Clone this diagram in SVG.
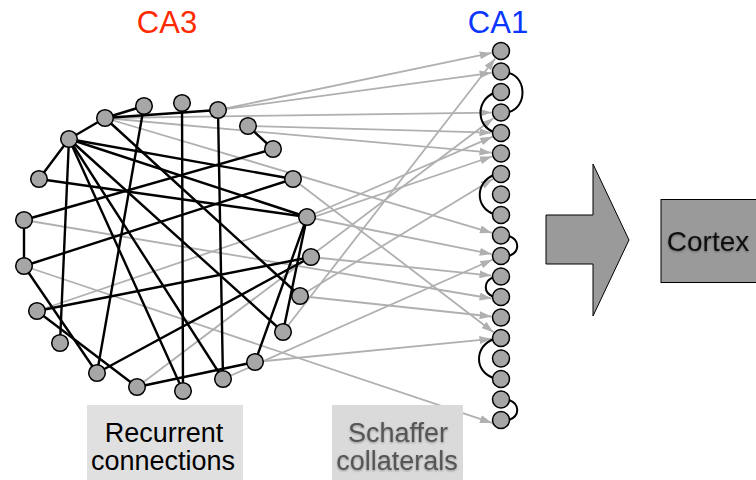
<svg xmlns="http://www.w3.org/2000/svg" width="756" height="480" viewBox="0 0 756 480">
<defs>
<marker id="ah" viewBox="0 0 12 8" refX="12" refY="4" markerWidth="12" markerHeight="8" markerUnits="userSpaceOnUse" orient="auto">
<path d="M0,0 L12,4 L0,8 z" fill="#b0b0b0"/>
</marker>
<filter id="sh" x="-10%" y="-10%" width="120%" height="130%">
<feGaussianBlur in="SourceAlpha" stdDeviation="1.2"/>
<feOffset dx="0" dy="1" result="b"/>
<feComponentTransfer><feFuncA type="linear" slope="0.35"/></feComponentTransfer>
<feMerge><feMergeNode/><feMergeNode in="SourceGraphic"/></feMerge>
</filter>
</defs>
<style>
.n{fill:#a6a6a6;stroke:#000;stroke-width:1.5}
.rc line{stroke:#000;stroke-width:2.4;stroke-linecap:round}
.sc line{stroke:#b0b0b0;stroke-width:1.8;marker-end:url(#ah)}
.arc{fill:none;stroke:#000;stroke-width:2}
.t{font-family:"Liberation Sans",Arial,sans-serif;text-anchor:middle}
</style>
<rect width="756" height="480" fill="#fff"/>
<text class="t" x="167" y="33" font-size="31" fill="#ff2a00">CA3</text>
<text class="t" x="498" y="33" font-size="31" fill="#0a36ff">CA1</text>
<g id="schaffer" class="sc">
<line x1="218" y1="110" x2="491.7" y2="52.9"/>
<line x1="218" y1="110" x2="491.6" y2="72.8"/>
<line x1="105" y1="118" x2="491.5" y2="112.6"/>
<line x1="105" y1="118" x2="491.5" y2="152.7"/>
<line x1="248" y1="126" x2="491.5" y2="132.7"/>
<line x1="105" y1="118" x2="491.9" y2="232.8"/>
<line x1="293" y1="179" x2="493.5" y2="332.2"/>
<line x1="307" y1="217" x2="491.7" y2="254.1"/>
<line x1="311" y1="257" x2="491.5" y2="275.6"/>
<line x1="300" y1="296" x2="491.6" y2="316.5"/>
<line x1="300" y1="296" x2="492.9" y2="178.9"/>
<line x1="283" y1="332" x2="495.2" y2="58.5"/>
<line x1="255" y1="362" x2="491.5" y2="338.9"/>
<line x1="137" y1="387" x2="493.4" y2="118.2"/>
<line x1="37" y1="311" x2="492" y2="156.5"/>
<line x1="24" y1="220" x2="491.6" y2="298.5"/>
<line x1="24" y1="266" x2="492" y2="422.9"/>
<line x1="223" y1="379" x2="492.3" y2="259.8"/>
<line x1="307" y1="217" x2="492.3" y2="136.8"/>
</g>
<g id="recurrent" class="rc">
<line x1="144" y1="106" x2="105" y2="118"/>
<line x1="105" y1="118" x2="69" y2="139"/>
<line x1="69" y1="139" x2="39" y2="179"/>
<line x1="24" y1="220" x2="24" y2="266"/>
<line x1="273" y1="149" x2="248" y2="126"/>
<line x1="105" y1="118" x2="218" y2="110"/>
<line x1="182" y1="103" x2="183" y2="391"/>
<line x1="218" y1="110" x2="223" y2="379"/>
<line x1="144" y1="106" x2="97" y2="373"/>
<line x1="69" y1="139" x2="60" y2="343"/>
<line x1="69" y1="139" x2="307" y2="217"/>
<line x1="69" y1="139" x2="293" y2="179"/>
<line x1="39" y1="179" x2="307" y2="217"/>
<line x1="24" y1="220" x2="273" y2="149"/>
<line x1="24" y1="266" x2="293" y2="179"/>
<line x1="37" y1="311" x2="311" y2="257"/>
<line x1="97" y1="373" x2="311" y2="257"/>
<line x1="69" y1="139" x2="183" y2="391"/>
<line x1="69" y1="139" x2="223" y2="379"/>
<line x1="69" y1="139" x2="283" y2="332"/>
<line x1="105" y1="118" x2="300" y2="296"/>
<line x1="307" y1="217" x2="283" y2="332"/>
<line x1="307" y1="217" x2="255" y2="362"/>
<line x1="24" y1="266" x2="97" y2="373"/>
<line x1="37" y1="311" x2="137" y2="387"/>
<line x1="137" y1="387" x2="255" y2="362"/>
</g>
<g id="ca1-links">
<path class="arc" d="M509,73 C527,78 527,107 509,112"/>
<path class="arc" d="M494,93 C476,100 476,126 494,132"/>
<path class="arc" d="M494,175 C475,182 475,208 494,214"/>
<path class="arc" d="M509,236 C520,240 520,252 509,256"/>
<path class="arc" d="M494,277 C483,281 483,293 494,297"/>
<path class="arc" d="M494,339 C474,346 474,372 494,378"/>
<path class="arc" d="M509,400 C520,404 520,416 509,420"/>
</g>
<g id="ca3">
<circle class="n" cx="144" cy="106" r="8.3"/>
<circle class="n" cx="105" cy="118" r="8.3"/>
<circle class="n" cx="69" cy="139" r="8.3"/>
<circle class="n" cx="39" cy="179" r="8.3"/>
<circle class="n" cx="24" cy="220" r="8.3"/>
<circle class="n" cx="24" cy="266" r="8.3"/>
<circle class="n" cx="37" cy="311" r="8.3"/>
<circle class="n" cx="60" cy="343" r="8.3"/>
<circle class="n" cx="97" cy="373" r="8.3"/>
<circle class="n" cx="137" cy="387" r="8.3"/>
<circle class="n" cx="183" cy="391" r="8.3"/>
<circle class="n" cx="223" cy="379" r="8.3"/>
<circle class="n" cx="255" cy="362" r="8.3"/>
<circle class="n" cx="283" cy="332" r="8.3"/>
<circle class="n" cx="300" cy="296" r="8.3"/>
<circle class="n" cx="311" cy="257" r="8.3"/>
<circle class="n" cx="307" cy="217" r="8.3"/>
<circle class="n" cx="293" cy="179" r="8.3"/>
<circle class="n" cx="273" cy="149" r="8.3"/>
<circle class="n" cx="248" cy="126" r="8.3"/>
<circle class="n" cx="218" cy="110" r="8.3"/>
<circle class="n" cx="182" cy="103" r="8.3"/>
</g>
<g id="ca1">
<circle class="n" cx="501" cy="51" r="8.5"/>
<circle class="n" cx="501" cy="71.5" r="8.5"/>
<circle class="n" cx="501" cy="92" r="8.5"/>
<circle class="n" cx="501" cy="112.5" r="8.5"/>
<circle class="n" cx="501" cy="133" r="8.5"/>
<circle class="n" cx="501" cy="153.5" r="8.5"/>
<circle class="n" cx="501" cy="174" r="8.5"/>
<circle class="n" cx="501" cy="194.5" r="8.5"/>
<circle class="n" cx="501" cy="215" r="8.5"/>
<circle class="n" cx="501" cy="235.5" r="8.5"/>
<circle class="n" cx="501" cy="256" r="8.5"/>
<circle class="n" cx="501" cy="276.5" r="8.5"/>
<circle class="n" cx="501" cy="297" r="8.5"/>
<circle class="n" cx="501" cy="317.5" r="8.5"/>
<circle class="n" cx="501" cy="338" r="8.5"/>
<circle class="n" cx="501" cy="358.5" r="8.5"/>
<circle class="n" cx="501" cy="379" r="8.5"/>
<circle class="n" cx="501" cy="399.5" r="8.5"/>
<circle class="n" cx="501" cy="420" r="8.5"/>
</g>
<g id="big-arrow">
<polygon points="546,215 593,215 593,164 629,240 593,316 593,264 546,264" fill="#9a9a9a" stroke="#000" stroke-width="1"/>
</g>
<g id="cortex">
<rect x="661" y="199.5" width="100" height="83" fill="#9a9a9a" stroke="#000" stroke-width="1"/>
<text class="t" x="708" y="251" font-size="28" fill="#111" filter="url(#sh)">Cortex</text>
</g>
<g id="label-recurrent">
<rect x="87" y="405" width="156" height="75" fill="#e0e0e0"/>
<text class="t" x="164" y="442" font-size="27" fill="#000">Recurrent</text>
<text class="t" x="163" y="470" font-size="27" fill="#000">connections</text>
</g>
<g id="label-schaffer">
<rect x="332" y="405" width="131" height="75" fill="#dadada"/>
<text class="t" x="398" y="442" font-size="27" fill="#555" filter="url(#sh)">Schaffer</text>
<text class="t" x="397" y="470" font-size="27" fill="#555" filter="url(#sh)">collaterals</text>
</g>
</svg>
